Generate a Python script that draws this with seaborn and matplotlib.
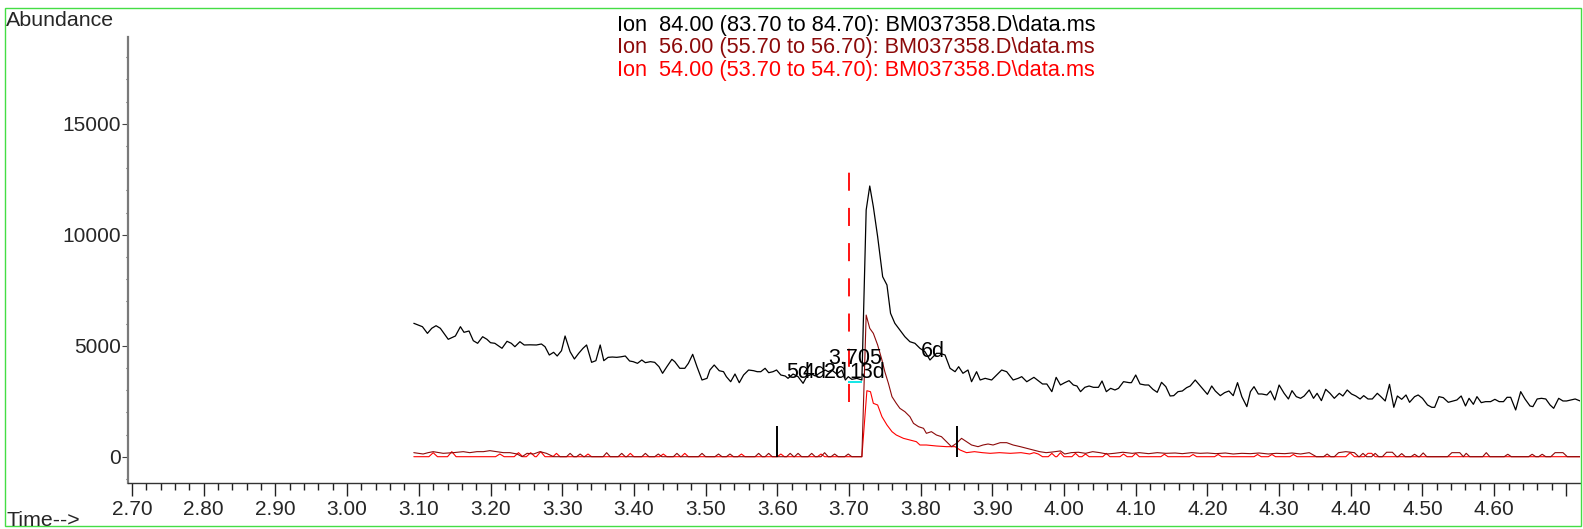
import matplotlib
matplotlib.use("Agg")
import pandas as pd
import seaborn as sns
import matplotlib.pyplot as plt
from matplotlib.patches import Rectangle
from matplotlib.ticker import MultipleLocator, FixedLocator

# extracted ion chromatograms, (time [min], abundance)
ion84_points = [
    (3.093, 6009), (3.099, 5932), (3.105, 5856), (3.112, 5556), (3.118, 5784), (3.124, 5901),
    (3.130, 5784), (3.141, 5288), (3.151, 5437), (3.158, 5856), (3.163, 5603), (3.170, 5662),
    (3.176, 5225), (3.182, 5108), (3.189, 5405), (3.195, 5288), (3.200, 5135), (3.206, 5108),
    (3.216, 4883), (3.223, 5198), (3.229, 5108), (3.234, 4955), (3.241, 5180), (3.247, 5032),
    (3.255, 5040), (3.264, 5032), (3.271, 5077), (3.276, 4955), (3.282, 4581), (3.288, 4703),
    (3.293, 4536), (3.299, 4775), (3.304, 5437), (3.311, 4730), (3.317, 4401), (3.323, 4657),
    (3.329, 4883), (3.334, 5032), (3.341, 4251), (3.347, 4326), (3.353, 5032), (3.358, 4326),
    (3.364, 4476), (3.370, 4490), (3.376, 4476), (3.382, 4500), (3.388, 4536), (3.394, 4311),
    (3.399, 4281), (3.405, 4206), (3.411, 4356), (3.416, 4236), (3.423, 4281), (3.429, 4251),
    (3.435, 4054), (3.440, 3757), (3.446, 4054), (3.453, 4386), (3.457, 4281), (3.464, 3982),
    (3.471, 3982), (3.476, 4206), (3.482, 4611), (3.488, 4054), (3.495, 3455), (3.502, 3530),
    (3.506, 3905), (3.512, 4131), (3.519, 3874), (3.525, 3829), (3.529, 3604), (3.535, 3378),
    (3.541, 3725), (3.547, 3333), (3.553, 3680), (3.560, 3905), (3.567, 3874), (3.572, 3829),
    (3.577, 3829), (3.583, 3982), (3.588, 3784), (3.594, 3829), (3.599, 3905), (3.605, 3680),
    (3.611, 3635), (3.615, 3530), (3.622, 3724), (3.629, 3605), (3.636, 3305), (3.641, 3605),
    (3.648, 3724), (3.653, 3635), (3.660, 3785), (3.667, 3905), (3.671, 3830), (3.676, 3905),
    (3.683, 3724), (3.690, 3905), (3.695, 3455), (3.699, 3605), (3.704, 3485), (3.711, 3530),
    (3.718, 3455), (3.724, 11113), (3.729, 12194), (3.734, 11261), (3.740, 9910), (3.747, 8108),
    (3.753, 7734), (3.758, 6459), (3.764, 6009), (3.771, 5707), (3.778, 5405), (3.785, 5180),
    (3.792, 5108), (3.799, 4883), (3.806, 4730), (3.813, 4356), (3.822, 4657), (3.827, 4657),
    (3.834, 4581), (3.841, 3982), (3.848, 3829), (3.853, 4054), (3.859, 3757), (3.866, 3905),
    (3.871, 3378), (3.878, 3829), (3.883, 3455), (3.890, 3530), (3.899, 3455), (3.906, 3680),
    (3.913, 3905), (3.920, 3829), (3.929, 3455), (3.936, 3530), (3.941, 3605), (3.948, 3378),
    (3.958, 3575), (3.964, 3425), (3.970, 3275), (3.976, 3275), (3.983, 2930), (3.989, 3575),
    (3.995, 3230), (4.001, 3335), (4.007, 3425), (4.013, 3230), (4.018, 3185), (4.023, 2930),
    (4.029, 3125), (4.035, 3185), (4.041, 3125), (4.048, 3125), (4.053, 3410), (4.059, 2930),
    (4.065, 3080), (4.071, 3005), (4.076, 3080), (4.083, 3380), (4.091, 3335), (4.094, 3335),
    (4.100, 3680), (4.106, 3275), (4.113, 3230), (4.118, 3230), (4.124, 3035), (4.130, 2900),
    (4.136, 3350), (4.142, 3155), (4.148, 2735), (4.153, 2750), (4.159, 2930), (4.165, 2960),
    (4.171, 3110), (4.176, 3185), (4.183, 3455), (4.189, 3230), (4.194, 3050), (4.200, 2810),
    (4.206, 3185), (4.211, 2960), (4.218, 2750), (4.224, 2885), (4.230, 2960), (4.236, 2750),
    (4.242, 3335), (4.248, 2705), (4.255, 2255), (4.260, 2930), (4.265, 3155), (4.271, 2825),
    (4.276, 2825), (4.283, 2780), (4.288, 2960), (4.294, 2555), (4.300, 3230), (4.307, 2855),
    (4.313, 2600), (4.318, 2975), (4.324, 2705), (4.330, 2630), (4.335, 2735), (4.342, 3005),
    (4.348, 2630), (4.353, 2855), (4.359, 2525), (4.365, 3035), (4.371, 2855), (4.377, 2630),
    (4.384, 2855), (4.389, 2735), (4.395, 3005), (4.401, 2825), (4.407, 2735), (4.413, 2600),
    (4.418, 2750), (4.424, 2600), (4.430, 2600), (4.437, 2855), (4.442, 2705), (4.448, 2510),
    (4.454, 3260), (4.460, 2225), (4.465, 2735), (4.471, 2585), (4.477, 2780), (4.482, 2450),
    (4.489, 2705), (4.494, 2780), (4.500, 2630), (4.507, 2330), (4.513, 2225), (4.517, 2225),
    (4.523, 2705), (4.529, 2660), (4.536, 2450), (4.543, 2510), (4.548, 2555), (4.554, 2735),
    (4.560, 2285), (4.565, 2630), (4.571, 2360), (4.576, 2705), (4.582, 2435), (4.588, 2480),
    (4.595, 2480), (4.601, 2585), (4.607, 2480), (4.613, 2480), (4.618, 2675), (4.623, 2675),
    (4.630, 2105), (4.637, 2930), (4.643, 2600), (4.650, 2285), (4.654, 2255), (4.660, 2600),
    (4.666, 2630), (4.672, 2600), (4.678, 2330), (4.683, 2180), (4.690, 2630), (4.696, 2510),
    (4.701, 2510), (4.707, 2555), (4.713, 2600), (4.720, 2510),
]

ion56_points = [
    (3.093, 182), (3.106, 122), (3.113, 182), (3.120, 227), (3.134, 152), (3.148, 182),
    (3.162, 227), (3.171, 182), (3.181, 227), (3.190, 227), (3.199, 272), (3.209, 227),
    (3.218, 182), (3.227, 182), (3.237, 122), (3.244, 0), (3.251, 152), (3.260, 122),
    (3.269, 227), (3.278, 152), (3.288, 0),
    (3.306, 0), (3.311, 150), (3.316, 0), (3.320, 0), (3.325, 120), (3.330, 0),
    (3.357, 0), (3.362, 180), (3.367, 0), (3.378, 0), (3.383, 150), (3.388, 0),
    (3.411, 0), (3.416, 150), (3.421, 0), (3.429, 0), (3.434, 120), (3.439, 0),
    (3.455, 0), (3.460, 150), (3.465, 0), (3.490, 0), (3.495, 150), (3.500, 0),
    (3.513, 0), (3.518, 120), (3.523, 0), (3.529, 0), (3.534, 120), (3.539, 0),
    (3.569, 0), (3.574, 150), (3.579, 0), (3.583, 0), (3.588, 150), (3.593, 0),
    (3.613, 0), (3.618, 150), (3.623, 0), (3.624, 0), (3.629, 150), (3.634, 0),
    (3.643, 0), (3.648, 150), (3.653, 0), (3.661, 0), (3.666, 180), (3.671, 0),
    (3.675, 0), (3.680, 120), (3.685, 0), (3.694, 0), (3.699, 120), (3.704, 0),
    (3.718, 0), (3.724, 6381), (3.729, 5782), (3.734, 5557), (3.740, 5032), (3.746, 4356),
    (3.750, 3830), (3.755, 3305), (3.760, 2704), (3.766, 2404), (3.771, 2179), (3.778, 2028),
    (3.785, 1803), (3.790, 1503), (3.797, 1353), (3.804, 1278), (3.808, 1053), (3.815, 1128),
    (3.822, 977), (3.829, 902), (3.836, 677), (3.843, 452), (3.850, 602), (3.857, 827),
    (3.864, 677), (3.871, 527), (3.880, 452), (3.887, 527), (3.894, 572), (3.901, 527),
    (3.911, 632), (3.920, 632), (3.929, 527), (3.939, 452), (3.948, 377), (3.957, 302),
    (3.966, 227), (3.975, 182), (3.984, 212), (3.995, 260), (4.001, 122), (4.010, 182),
    (4.020, 200), (4.030, 152), (4.040, 227), (4.050, 182), (4.060, 122), (4.070, 152),
    (4.082, 200), (4.095, 152), (4.105, 182), (4.118, 137), (4.130, 182), (4.142, 152),
    (4.155, 167), (4.165, 137), (4.178, 182), (4.190, 152), (4.200, 167), (4.212, 137),
    (4.225, 167), (4.236, 122), (4.248, 152), (4.260, 137), (4.272, 167), (4.285, 122),
    (4.296, 152), (4.308, 137), (4.318, 167), (4.330, 122), (4.342, 182), (4.352, 0),
    (4.362, 0), (4.367, 120), (4.372, 0), (4.377, 0), (4.383, 182), (4.393, 227),
    (4.405, 182), (4.411, 0), (4.412, 0), (4.417, 150), (4.422, 0), (4.429, 0),
    (4.434, 150), (4.439, 0), (4.444, 0), (4.450, 200), (4.458, 200), (4.464, 0),
    (4.466, 0), (4.471, 140), (4.476, 0), (4.484, 0), (4.489, 110), (4.494, 0),
    (4.496, 0), (4.501, 170), (4.506, 0), (4.535, 0), (4.541, 182), (4.552, 182),
    (4.557, 0), (4.561, 152), (4.566, 0), (4.584, 0), (4.589, 182), (4.594, 0),
    (4.614, 0), (4.619, 110), (4.624, 0), (4.648, 0), (4.653, 110), (4.658, 0),
    (4.662, 0), (4.667, 110), (4.672, 0), (4.679, 0), (4.685, 182), (4.696, 182),
    (4.702, 0), (4.720, 0),
]

ion54_points = [
    (3.093, 0), (3.114, 0), (3.120, 180), (3.126, 0), (3.140, 0), (3.146, 227), (3.152, 0),
    (3.207, 0), (3.213, 122), (3.219, 0), (3.233, 0), (3.239, 182), (3.245, 0),
    (3.250, 0), (3.256, 182), (3.262, 0), (3.264, 0), (3.270, 227), (3.276, 0),
    (3.287, 0), (3.292, 150), (3.297, 0), (3.331, 0), (3.336, 120), (3.341, 0),
    (3.390, 0), (3.395, 150), (3.400, 0), (3.436, 0), (3.441, 120), (3.446, 0),
    (3.466, 0), (3.471, 150), (3.476, 0), (3.545, 0), (3.550, 120), (3.555, 0),
    (3.600, 0), (3.605, 120), (3.610, 0), (3.656, 0), (3.661, 120), (3.666, 0),
    (3.718, 0), (3.725, 2973), (3.730, 2928), (3.734, 2404), (3.740, 2329), (3.746, 1803),
    (3.753, 1428), (3.760, 1128), (3.766, 977), (3.776, 827), (3.785, 752), (3.794, 677),
    (3.799, 527), (3.808, 527), (3.822, 482), (3.836, 452), (3.848, 452), (3.855, 302),
    (3.864, 182), (3.875, 227), (3.886, 182), (3.897, 152), (3.910, 182), (3.925, 152),
    (3.940, 182), (3.952, 122), (3.958, 182), (3.964, 122), (3.970, 0),
    (3.978, 0), (3.983, 150), (3.988, 0), (3.990, 0), (3.995, 180), (4.000, 0),
    (4.011, 0), (4.016, 150), (4.021, 0), (4.025, 0), (4.030, 120), (4.035, 0),
    (4.054, 0), (4.059, 150), (4.064, 0), (4.078, 0), (4.083, 120), (4.088, 0),
    (4.095, 0), (4.100, 150), (4.105, 0), (4.135, 0), (4.140, 110), (4.145, 0),
    (4.175, 0), (4.180, 100), (4.185, 0), (4.210, 0), (4.215, 100), (4.220, 0),
    (4.265, 0), (4.270, 100), (4.275, 0), (4.285, 0), (4.290, 100), (4.295, 0),
    (4.315, 0), (4.320, 100), (4.325, 0), (4.393, 0), (4.399, 180), (4.405, 0),
    (4.419, 0), (4.424, 152), (4.429, 152), (4.434, 0), (4.720, 0),
]

ion_labels = [
    "Ion  84.00 (83.70 to 84.70): BM037358.D\\data.ms",
    "Ion  56.00 (55.70 to 56.70): BM037358.D\\data.ms",
    "Ion  54.00 (53.70 to 54.70): BM037358.D\\data.ms",
]
ion_colors = ["#000000", "#8c0a0a", "#ff0000"]

# integration marks
peak_rt = 3.70
peak_line_span = (2480, 13140)
limit_times = [3.60, 3.85]
limit_height = 1380
baseline_seg = (3.699, 3.718, 3380)

# peak labels: (text, time, abundance)
peak_texts = [
    ("5d", 3.613, 3784), ("4d", 3.635, 3784), ("2d", 3.665, 3784),
    ("13d", 3.700, 3784), ("3.705", 3.671, 4445), ("6d", 3.801, 4730),
]

x_ticks = [2.70, 2.80, 2.90, 3.00, 3.10, 3.20, 3.30, 3.40, 3.50, 3.60,
           3.70, 3.80, 3.90, 4.00, 4.10, 4.20, 4.30, 4.40, 4.50, 4.60]
y_ticks = [0, 5000, 10000, 15000]

sns.set_style("white")
plt.rcParams["font.family"] = ["Liberation Sans", "DejaVu Sans"]

fig = plt.figure(figsize=(15.83, 5.29), dpi=100)
ax = fig.add_axes([0.0809, 0.0864, 0.9171, 0.8442])

for pts, col, lw in [(ion54_points, ion_colors[2], 0.8),
                     (ion56_points, ion_colors[1], 0.8),
                     (ion84_points, ion_colors[0], 0.9)]:
    df = pd.DataFrame(pts, columns=["time", "abundance"])
    sns.lineplot(data=df, x="time", y="abundance", ax=ax, color=col,
                 linewidth=lw, estimator=None, sort=False)

ax.vlines(peak_rt, *peak_line_span, colors="#ff0000", linewidth=1.3,
          linestyles=(0, (10, 9.5)))
ax.vlines(limit_times, 0, limit_height, colors="black", linewidth=1.4)
ax.hlines(baseline_seg[2], baseline_seg[0], baseline_seg[1], colors="#00e5e5", linewidth=1.3)

for txt, t, v in peak_texts:
    ax.text(t, v, txt, fontsize=15.5, ha="left", va="center", color="black")

ax.set_xlim(2.6944, 4.7195)
ax.set_ylim(-1198, 18919)
ax.set_xlabel("")
ax.set_ylabel("")

ax.xaxis.set_major_locator(FixedLocator(x_ticks + [4.70]))
ax.set_xticklabels([f"{t:.2f}" for t in x_ticks] + [""])
ax.xaxis.set_minor_locator(MultipleLocator(0.02))
ax.yaxis.set_major_locator(FixedLocator(y_ticks))
ax.yaxis.set_minor_locator(MultipleLocator(1000))

ax.tick_params(axis="x", which="major", direction="out", length=9, width=1,
               color="#222222", labelsize=15, pad=3, bottom=True)
ax.tick_params(axis="x", which="minor", direction="out", length=5, width=1,
               color="#222222", bottom=True)
ax.tick_params(axis="y", which="major", direction="out", length=4, width=0.8,
               color="#444444", labelsize=15, pad=1, left=True)
ax.tick_params(axis="y", which="minor", direction="out", length=1.5, width=0.8,
               color="#444444", left=True)

for side in ["top", "right"]:
    ax.spines[side].set_visible(False)
ax.spines["left"].set_color("#7a7a7a")
ax.spines["left"].set_linewidth(1.6)
ax.spines["bottom"].set_color("#333333")
ax.spines["bottom"].set_linewidth(1.0)

fig.text(6 / 1583, 1 - 20.7 / 529, "Abundance", fontsize=15.4, ha="left", va="center")
fig.text(6.7 / 1583, 1 - 520 / 529, "Time-->", fontsize=15.4, ha="left", va="center")
for i, (lab, col) in enumerate(zip(ion_labels, ion_colors)):
    fig.text(617 / 1583, 1 - (25.7 + 22.2 * i) / 529, lab, fontsize=15.7,
             ha="left", va="center", color=col)

fig.patches.append(Rectangle((5 / 1583, 1 - 526 / 529), 1576 / 1583, 518.5 / 529,
                             transform=fig.transFigure, fill=False,
                             edgecolor="#44dd44", linewidth=1))

fig.savefig("out.png", dpi=100)
